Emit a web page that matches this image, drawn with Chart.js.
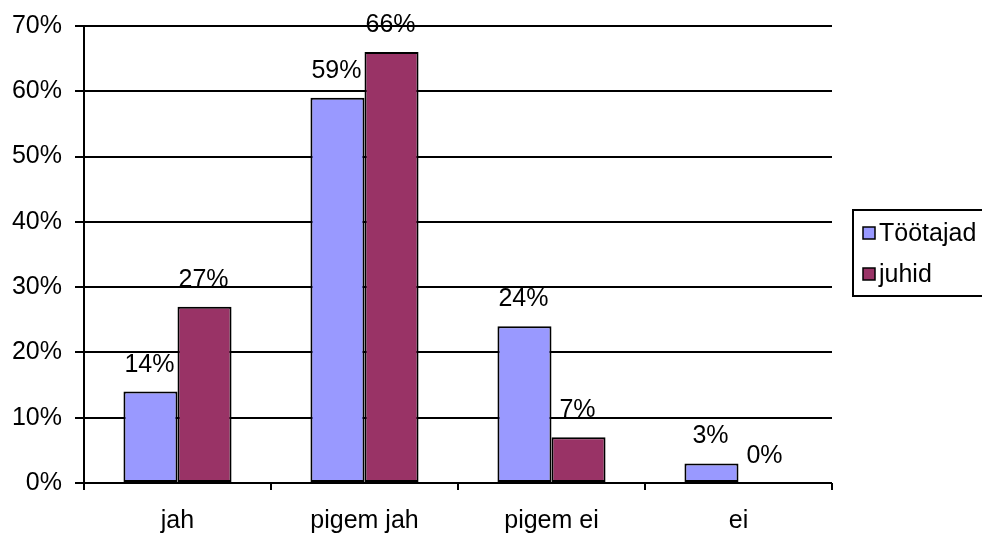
<!DOCTYPE html>
<html>
<head>
<meta charset="utf-8">
<script src="https://cdn.jsdelivr.net/npm/chart.js@4.4.1/dist/chart.umd.min.js"></script>
<style>
  html, body { margin: 0; padding: 0; background: #fff; }
  #wrap { width: 982px; height: 533px; }
</style>
</head>
<body>
<div id="wrap"><canvas id="c" width="982" height="533"></canvas></div>
<script>
// Answer categories and the share of each group (percent)
const categories = ['jah', 'pigem jah', 'pigem ei', 'ei'];
const tootajad = [14, 59, 24, 3];
const juhid = [27, 66, 7, 0];
const seriesNames = ['Töötajad', 'juhid'];
const yTicks = [0, 10, 20, 30, 40, 50, 60, 70];

const FONT = "'Liberation Sans', Arial, sans-serif";
const FONT_SIZE = 25;
const colors = ['#9999ff', '#993366'];

// Value labels above every bar
const valueLabels = {
  id: 'valueLabels',
  afterDatasetsDraw(chart) {
    const ctx = chart.ctx;
    ctx.save();
    ctx.font = FONT_SIZE + 'px ' + FONT;
    ctx.fillStyle = '#000';
    ctx.textAlign = 'center';
    ctx.textBaseline = 'alphabetic';
    chart.data.datasets.forEach((ds, i) => {
      chart.getDatasetMeta(i).data.forEach((bar, j) => {
        ctx.fillText(ds.data[j] + '%', bar.x - 1, bar.y - 20);
      });
    });
    ctx.restore();
  }
};

// Boxed legend on the right-hand side
const boxLegend = {
  id: 'boxLegend',
  afterDraw(chart) {
    const ctx = chart.ctx;
    ctx.save();
    ctx.strokeStyle = '#000';
    ctx.lineWidth = 2;
    ctx.strokeRect(853, 210, 140, 86);
    ctx.font = FONT_SIZE + 'px ' + FONT;
    ctx.textBaseline = 'middle';
    ctx.textAlign = 'left';
    const rows = [233, 274];
    seriesNames.forEach((name, i) => {
      ctx.fillStyle = colors[i];
      ctx.fillRect(863, rows[i] - 6, 12, 12);
      ctx.lineWidth = 1.5;
      ctx.strokeRect(863, rows[i] - 6, 12, 12);
      ctx.fillStyle = '#000';
      ctx.fillText(name, 879, rows[i] + 1);
    });
    ctx.restore();
  }
};

new Chart(document.getElementById('c'), {
  type: 'bar',
  data: {
    labels: categories,
    datasets: [
      { label: seriesNames[0], data: tootajad, backgroundColor: colors[0], borderColor: '#000', borderWidth: 2, borderSkipped: false },
      { label: seriesNames[1], data: juhid, backgroundColor: colors[1], borderColor: '#000', borderWidth: 2, borderSkipped: false }
    ]
  },
  options: {
    responsive: false,
    animation: false,
    events: [],
    layout: { padding: { top: 26, right: 150, left: 0, bottom: 0 } },
    datasets: { bar: { categoryPercentage: 0.578, barPercentage: 1.0 } },
    plugins: { legend: { display: false }, tooltip: { enabled: false } },
    scales: {
      x: {
        grid: { offset: true, drawOnChartArea: false, drawTicks: true, tickLength: 7, color: '#000', lineWidth: 2 },
        border: { display: false },
        ticks: { color: '#000', font: { family: FONT, size: FONT_SIZE }, padding: 16, maxRotation: 0 },
        afterFit(scale) { scale.height = 50; }
      },
      y: {
        min: 0, max: 70,
        afterBuildTicks(scale) { scale.ticks = yTicks.map(v => ({ value: v })); },
        grid: { color: '#000', lineWidth: 2, tickLength: 9 },
        border: { display: true, color: '#000', width: 2 },
        ticks: { color: '#000', font: { family: FONT, size: FONT_SIZE }, padding: 13, callback: v => v + '%' },
        afterFit(scale) {
          scale.width = 84;
          scale.paddingTop = 0;
          scale.paddingBottom = 0;
        }
      }
    }
  },
  plugins: [valueLabels, boxLegend]
});
</script>
</body>
</html>
